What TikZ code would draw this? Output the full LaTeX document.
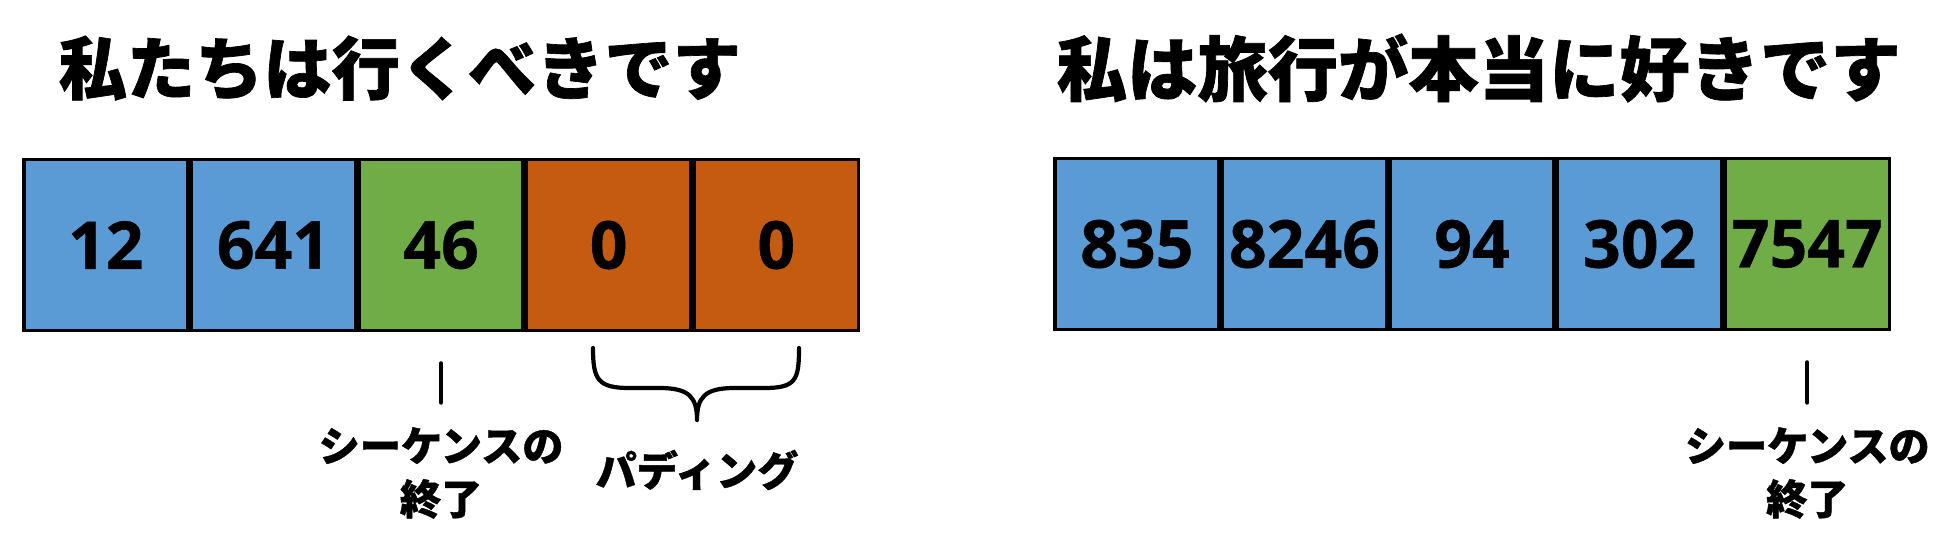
\documentclass[tikz,border=0pt]{standalone}
\usepackage{fontspec}
\setmainfont{Open Sans}[FakeBold=0.6]
\newfontfamily\jpfont{Noto Sans CJK JP}[FakeBold=1]
\usepackage{tikz}
\usetikzlibrary{positioning}
\definecolor{tokblue}{HTML}{5B9BD5}
\definecolor{tokgreen}{HTML}{70AD47}
\definecolor{tokorange}{HTML}{C55A11}

\begin{document}
\begin{tikzpicture}[x=0.01cm, y=-0.01cm,
  cell/.style={draw, line width=1pt, minimum width=1.64cm, minimum height=1.71cm, inner sep=0pt, font=\fontsize{18.8}{20}\selectfont\bfseries},
  title/.style={inner sep=0pt, font=\jpfont\fontsize{19.4}{22}\selectfont\bfseries},
  lbl/.style={inner sep=0pt, align=center, font=\jpfont\fontsize{11.7}{15.1}\selectfont\bfseries},
  tick/.style={line width=1.2pt, line cap=round},
  brace/.style={line width=1.2pt, line cap=round, line join=round}]
\useasboundingbox (0,0) rectangle (1946,544);
% left sentence
\node[title, anchor=west] (t1) at (58,68) {私たちは行くべきです};
\node[cell, fill=tokblue, anchor=west] (a1) at (22,245) {12};
\node[cell, fill=tokblue, right=0pt of a1] (a2) {641};
\node[cell, fill=tokgreen, right=0pt of a2] (a3) {46};
\node[cell, fill=tokorange, right=0pt of a3] (a4) {0};
\node[cell, fill=tokorange, right=0pt of a4] (a5) {0};
\node[lbl] (e1) at (a3.south |- 0,473) {シーケンスの\\終了};
\node[lbl] (p1) at (697,470) {パディング};
\draw[tick, shorten <=3.1mm, shorten >=2.4mm] (a3.south) -- (e1.north);
\draw[brace] (593,348) .. controls (593,380) and (598,388) .. (630,388) -- (660,388)
  .. controls (690,388) and (697,398) .. (697,420)
  .. controls (697,398) and (704,388) .. (734,388) -- (764,388)
  .. controls (796,388) and (799,380) .. (799,348);
% right sentence
\node[title, anchor=west, font=\jpfont\fontsize{20}{22}\selectfont\bfseries] (t2) at (1056,68) {私は旅行が本当に好きです};
\node[cell, fill=tokblue, anchor=west] (b1) at (1053,244) {835};
\node[cell, fill=tokblue, right=0pt of b1] (b2) {8246};
\node[cell, fill=tokblue, right=0pt of b2] (b3) {94};
\node[cell, fill=tokblue, right=0pt of b3] (b4) {302};
\node[cell, fill=tokgreen, right=0pt of b4] (b5) {7547};
\node[lbl] (e2) at (b5.south |- 0,473) {シーケンスの\\終了};
\draw[tick, shorten <=3.1mm, shorten >=2.4mm] (b5.south) -- (e2.north);
\end{tikzpicture}
\end{document}
